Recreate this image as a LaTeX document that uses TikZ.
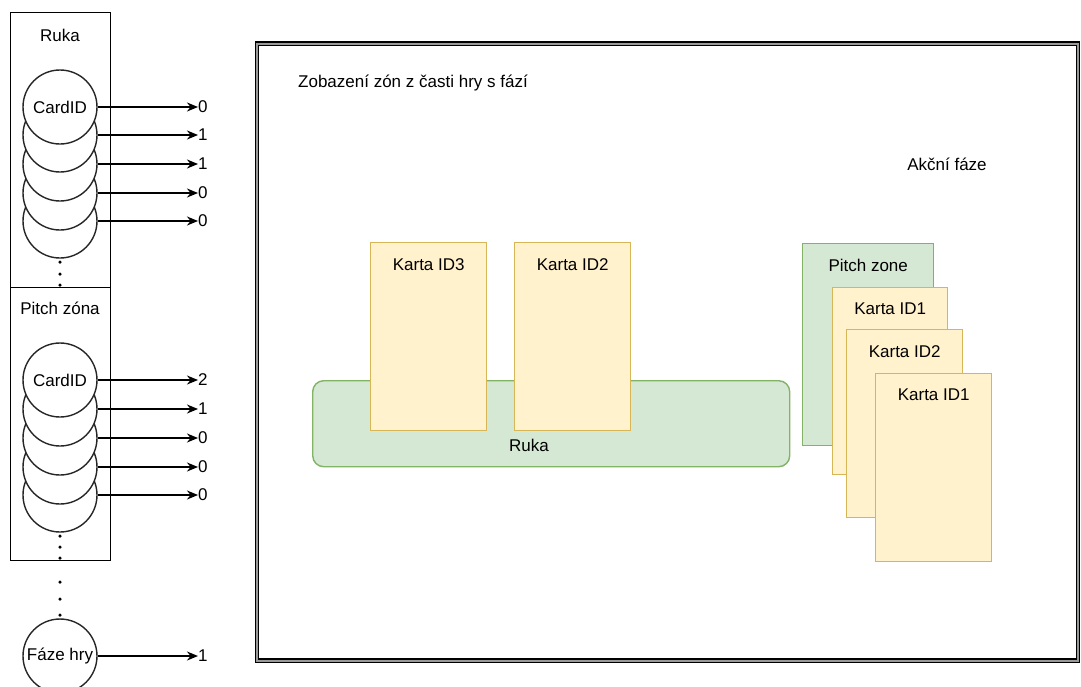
\documentclass[tikz,border=0pt]{standalone}
\usepackage{fontspec}
\setmainfont{Liberation Sans}
\usetikzlibrary{arrows.meta,calc}
\definecolor{zonefill}{HTML}{D5E8D4}
\definecolor{zoneline}{HTML}{82B366}
\definecolor{cardfill}{HTML}{FFF2CC}
\definecolor{cardline}{HTML}{D6B656}
\begin{document}
\begin{tikzpicture}[x=1pt,y=-1pt,
  font=\fontsize{17}{20}\selectfont,
  every node/.style={inner sep=0pt},
  panel/.style={draw=black, line width=1.4pt, fill=white, anchor=north west},
  slot/.style={circle, draw=black!85, line width=1.4pt, fill=white, minimum size=74pt},
  flow/.style={-{Stealth[length=11pt,width=9pt,inset=3.5pt]}, line width=1.5pt},
  scene/.style={draw=black, line width=1.2pt, double=black!40, double distance=2pt, anchor=north west},
  zone/.style={draw=zoneline, fill=zonefill, line width=1.4pt, anchor=north west},
  card/.style={draw=cardline, fill=cardfill, line width=1.4pt, anchor=north west,
    minimum width=116pt, minimum height=188pt},
  dot/.style={circle, fill=black, minimum size=3.5pt}]

\useasboundingbox (0,0) rectangle (1081,686);

% ---- left column: hand and pitch memory ----
\node[panel, minimum width=100pt, minimum height=275pt] (handpanel) at (10,12) {};
\node[panel, minimum width=100pt, minimum height=273pt] (pitchpanel) at (10,287) {};
\node (handtitle) at (60,35) {Ruka};
\node (pitchtitle) at (60,308) {Pitch zóna};

% hand slots (lower ones first so the upper ones lie on top)
\foreach \i/\yy in {5/221,4/193,3/164,2/135} \node[slot] (h\i) at (60,\yy) {};
\node[slot] (h1) at (60,107) {CardID};
\foreach \i/\v in {1/0,2/1,3/1,4/0,5/0} {
  \node[anchor=west] (hv\i) at (198,0 |- h\i) {\v};
  \draw[flow] (h\i.east) -- (hv\i.west);
}

% pitch slots
\foreach \i/\yy in {5/495,4/467,3/438,2/409} \node[slot] (p\i) at (60,\yy) {};
\node[slot] (p1) at (60,380) {CardID};
\foreach \i/\v in {1/2,2/1,3/0,4/0,5/0} {
  \node[anchor=west] (pv\i) at (198,0 |- p\i) {\v};
  \draw[flow] (p\i.east) -- (pv\i.west);
}

% continuation dots
\foreach \yy [count=\k] in {262,274,285,536,547,558,582,599,615}
  \node[dot] (gap\k) at (60,\yy) {};

% game phase
\node[slot] (phase) at (60,656) {Fáze hry};
\node[anchor=west] (phasev) at (198,0 |- phase) {1};
\draw[flow] (phase.east) -- (phasev.west);

% ---- right: zones of the game area ----
\node[scene, minimum width=821pt, minimum height=617pt] (board) at (256.5,43) {};
\node[anchor=west] (boardtitle) at (298,83) {Zobazení zón z časti hry s fází};
\node (phasename) at (947,164) {Akční fáze};

\node[zone, rounded corners=11pt, minimum width=477pt, minimum height=86pt] (handzone) at (312,380) {};
\node (handzonet) at (529,445) {Ruka};

\node[card] (k3) at (370,242) {};
\node (k3t) at ($(k3.north)+(0,23)$) {Karta ID3};
\node[card] (k2) at (514,242) {};
\node (k2t) at ($(k2.north)+(0,23)$) {Karta ID2};

\node[zone, minimum width=131pt, minimum height=202pt] (pitchzone) at (802,243) {};
\node (pitchzonet) at ($(pitchzone.north)+(0,22)$) {Pitch zone};
\node[card, minimum width=115pt, minimum height=187pt] (pc1) at (832,287) {};
\node (pc1t) at ($(pc1.north)+(0,22)$) {Karta ID1};
\node[card] (pc2) at (846,329) {};
\node (pc2t) at ($(pc2.north)+(0,23)$) {Karta ID2};
\node[card] (pc3) at (875,373) {};
\node (pc3t) at ($(pc3.north)+(0,22)$) {Karta ID1};
\end{tikzpicture}
\end{document}
